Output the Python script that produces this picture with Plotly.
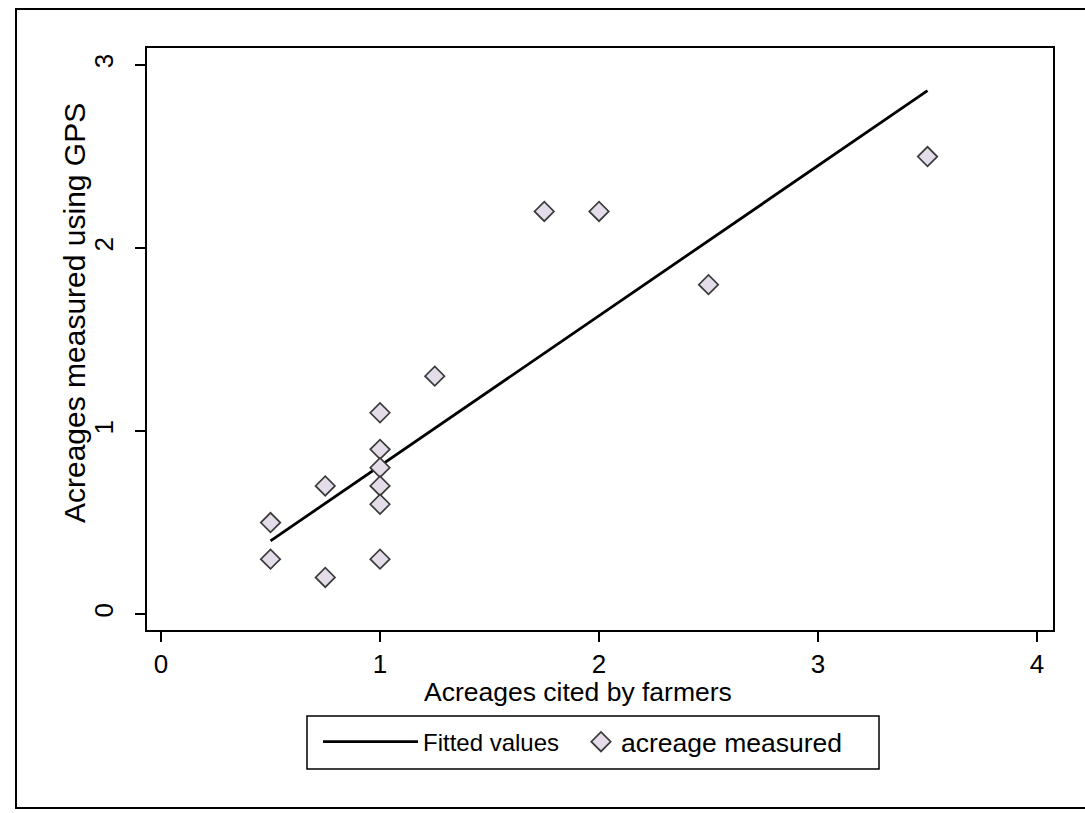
import plotly.graph_objects as go

# Data
cited_acres = [0.5, 0.5, 0.75, 0.75, 1.0, 1.0, 1.0, 1.0, 1.0, 1.0, 1.25, 1.75, 2.0, 2.5, 3.5]
gps_acres = [0.5, 0.3, 0.7, 0.2, 1.1, 0.9, 0.8, 0.7, 0.6, 0.3, 1.3, 2.2, 2.2, 1.8, 2.5]
fitted_x = [0.5, 3.5]
fitted_y = [0.40, 2.86]
x_ticks = [0, 1, 2, 3, 4]
y_ticks = [0, 1, 2, 3]

FONT = "Liberation Sans, Arial, sans-serif"

fig = go.Figure()
fig.add_trace(go.Scatter(
    x=fitted_x, y=fitted_y, mode="lines", name="Fitted values",
    line=dict(color="black", width=2.8), legend="legend",
))
fig.add_trace(go.Scatter(
    x=cited_acres, y=gps_acres, mode="markers", name="acreage measured",
    marker=dict(symbol="diamond", size=15, color="#e4dde9",
                line=dict(color="#3a3a3a", width=1.7)),
    legend="legend2",
))

L, R, T, B = 147, 1053, 48, 630
W, H = 1085, 813
pw, ph = R - L, B - T

def px(x):
    return (x - L) / pw

def py(y):
    return (B - y) / ph

fig.update_layout(
    width=W, height=H,
    margin=dict(l=L, r=W - R, t=T, b=H - B, pad=0),
    paper_bgcolor="white", plot_bgcolor="white",
    font=dict(family=FONT, size=25, color="black"),
    showlegend=True,
    legend=dict(
        orientation="h", xanchor="left", yanchor="middle",
        x=px(318), y=py(742),
        borderwidth=0, font=dict(size=24), itemwidth=95,
        bgcolor="rgba(0,0,0,0)",
    ),
    legend2=dict(
        orientation="h", xanchor="left", yanchor="middle",
        x=px(581), y=py(742),
        borderwidth=0, font=dict(size=26.5), itemwidth=30,
        bgcolor="rgba(0,0,0,0)",
    ),
    xaxis=dict(
        range=[-0.064, 4.073], tickvals=x_ticks, ticks="outside", ticklen=10,
        tickwidth=1.5, tickcolor="black", showline=True, linecolor="black",
        linewidth=1.5, mirror=True, showgrid=False, zeroline=False,
        tickfont=dict(size=26),
    ),
    yaxis=dict(
        range=[-0.087, 3.093], tickvals=y_ticks, ticks="outside", ticklen=10,
        tickwidth=1.5, tickcolor="black", showline=True, linecolor="black",
        linewidth=1.5, mirror=True, showgrid=False, zeroline=False,
        tickangle=-90, tickfont=dict(size=26), ticklabelstandoff=12,
    ),
    annotations=[
        dict(text="Acreages cited by farmers", xref="paper", yref="paper",
             x=px(578), y=py(692), xanchor="center", yanchor="middle",
             showarrow=False, font=dict(size=26.5)),
        dict(text="Acreages measured using GPS", xref="paper", yref="paper",
             x=px(74), y=py(313), xanchor="center", yanchor="middle",
             textangle=-90, showarrow=False, font=dict(size=30)),
    ],
    shapes=[
        dict(type="rect", xref="paper", yref="paper",
             x0=px(16), x1=px(1095), y0=py(808), y1=py(9),
             line=dict(color="black", width=2), layer="below"),
        dict(type="rect", xref="paper", yref="paper",
             x0=px(307), x1=px(879), y0=py(769), y1=py(716),
             line=dict(color="black", width=1.5), layer="below"),
    ],
)

fig.write_html("out.html")
